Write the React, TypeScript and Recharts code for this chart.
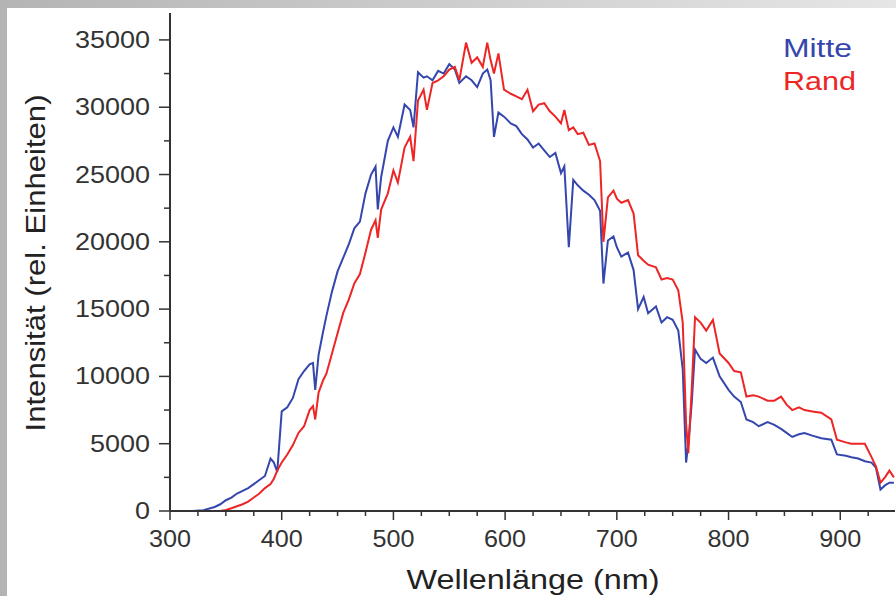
import React from 'react';
import { LineChart, Line, XAxis, YAxis, Legend, Label } from 'recharts';

// wavelength grid (nm) and the two spectra
const wavelengths = [
  300, 310, 320, 330, 340, 345, 350, 355, 360, 365, 370, 375, 380, 385, 390, 393, 396, 400,
  405, 410, 415, 420, 425, 428, 430, 433, 437, 440, 445, 450, 455, 460, 465, 470, 475, 480,
  484, 486, 489, 495, 500, 504, 510, 515, 518, 522, 527, 530, 535, 540, 545, 550, 555, 559,
  565, 570, 575, 580, 584, 587, 590, 594, 599, 605, 610, 615, 620, 625, 630, 635, 640, 645,
  650, 653, 657, 661, 665, 670, 675, 680, 685, 688, 692, 697, 700, 704, 710, 715, 719, 724,
  728, 735, 740, 745, 750, 755, 759, 762, 764, 767, 770, 775, 780, 786, 792, 800, 805, 811,
  816, 822, 827, 835, 841, 847, 852, 857, 863, 868, 875, 883, 892, 897, 905, 910, 916, 922,
  928, 932, 936, 940, 944, 948,
];

const mitte = [
  0, 0, 0, 50, 300, 500, 800, 1000, 1300, 1500, 1700, 2000, 2300, 2600, 3900, 3600, 2900, 7400,
  7700, 8400, 9800, 10400, 10900, 11000, 9000, 11600, 13300, 14500, 16300, 17800, 18800, 19800, 21000, 21500, 23600, 25000,
  25600, 22400, 24800, 27500, 28500, 27800, 30200, 29800, 28500, 32600, 32200, 32300, 32000, 32700, 32500, 33200, 32800, 31800,
  32300, 32000, 31500, 32500, 32800, 32000, 27800, 29600, 29300, 28800, 28600, 28000, 27600, 27000, 27300, 26800, 26300, 26600,
  25100, 25600, 19600, 24600, 24200, 23800, 23500, 23100, 22300, 16900, 20100, 20400, 19600, 18900, 19200, 17900, 15000, 15900,
  14700, 15200, 14000, 14400, 14200, 13400, 10500, 3600, 5000, 8000, 12000, 11300, 11000, 11400, 10000, 9000, 8500, 8100,
  6800, 6600, 6300, 6600, 6400, 6100, 5800, 5500, 5700, 5800, 5600, 5400, 5300, 4200, 4100, 4000, 3900, 3700,
  3600, 3200, 1600, 1900, 2100, 2100,
];

const rand = [
  0, 0, 0, 0, 0, 0, 80, 200, 350, 500, 700, 1000, 1300, 1700, 2000, 2400, 3000, 3600,
  4200, 4900, 5800, 6300, 7500, 7800, 6800, 8800, 9700, 10200, 11700, 13200, 14700, 15700, 16900, 17600, 19200, 20900,
  21600, 20300, 22400, 23600, 25300, 24400, 27000, 27800, 26000, 30500, 31300, 29800, 31800, 32000, 32300, 32800, 33000, 32000,
  34800, 33300, 33700, 33000, 34800, 33500, 32500, 34000, 31300, 31000, 30800, 30600, 31300, 29700, 30200, 30300, 29700, 29300,
  28800, 29800, 28300, 28500, 28000, 28100, 27200, 27300, 26000, 20000, 23300, 23800, 23200, 22900, 23100, 22100, 19000, 18600,
  18300, 18100, 17200, 17300, 17200, 16400, 14000, 6500, 4300, 9000, 14400, 14000, 13400, 14200, 11700, 11000, 10400, 10300,
  8500, 8600, 8500, 8200, 8200, 8500, 7900, 7500, 7700, 7500, 7400, 7300, 6800, 5300, 5100, 5000, 5000, 5000,
  4000, 3300, 2100, 2500, 3000, 2500,
];

const xTicks = [
  300, 325, 350, 375, 400, 425, 450, 475, 500, 525, 550, 575, 600, 625, 650, 675, 700, 725,
  750, 775, 800, 825, 850, 875, 900, 925,
];
const yTicks = [
  0, 2500, 5000, 7500, 10000, 12500, 15000, 17500, 20000, 22500, 25000, 27500, 30000, 32500, 35000,
];

const data = wavelengths.map((nm, i) => ({ nm, mitte: mitte[i], rand: rand[i] }));

const FONT = '"Liberation Sans", Arial, sans-serif';
const BLUE = '#3546ad';
const RED = '#ee2525';

const XTick = (props: any) => {
  const { x, y, payload } = props;
  const major = payload.value % 100 === 0;
  const label = String(payload.value);
  return (
    <g>
      <line x1={x} y1={y} x2={x} y2={y + (major ? 9 : 5)} stroke="#333" strokeWidth={1.5} />
      {major && (
        <text x={x} y={y + 36} textAnchor="middle" fill="#333" fontSize={24} fontFamily={FONT}
          textLength={label.length * 14} lengthAdjust="spacingAndGlyphs">
          {label}
        </text>
      )}
    </g>
  );
};

const YTick = (props: any) => {
  const { x, y, payload } = props;
  const major = payload.value % 5000 === 0;
  const label = String(payload.value);
  return (
    <g>
      <line x1={x} y1={y} x2={x - (major ? 11 : 6)} y2={y} stroke="#333" strokeWidth={1.5} />
      {major && (
        <text x={x - 20} y={y + 8} textAnchor="end" fill="#333" fontSize={23} fontFamily={FONT}
          textLength={label.length * 15} lengthAdjust="spacingAndGlyphs">
          {label}
        </text>
      )}
    </g>
  );
};

const LegendBox = (props: any) => {
  const { payload } = props;
  return (
    <svg width={90} height={70}>
      {(payload || []).map((entry: any, i: number) => (
        <text key={entry.value} x={2} y={27 + i * 33} fill={entry.color} fontSize={26} fontFamily={FONT}
          textLength={entry.value === 'Mitte' ? 69 : 73} lengthAdjust="spacingAndGlyphs">
          {entry.value}
        </text>
      ))}
    </svg>
  );
};

export default function App() {
  return (
    <div style={{ position: 'absolute', left: 0, top: 0, width: 896, height: 596, overflow: 'hidden',
      background: 'linear-gradient(to right, #b4b4b4, #e6e6e6)' }}>
      <div style={{ position: 'absolute', left: 7, top: 8, right: 0, bottom: 0, background: '#fff' }} />
      <div style={{ position: 'absolute', left: 0, top: 0 }}>
        <LineChart width={896} height={596} data={data} margin={{ top: 13, right: 1, bottom: 0, left: 0 }}>
          <XAxis dataKey="nm" type="number" domain={[300, 949]} ticks={xTicks} interval={0}
            tickSize={0} tickMargin={0} tick={<XTick />} tickLine={false}
            axisLine={{ stroke: '#333', strokeWidth: 2 }} height={85}>
            <Label content={() => (
              <text x={533} y={589} textAnchor="middle" fill="#222" fontSize={27} fontFamily={FONT}
                textLength={253} lengthAdjust="spacingAndGlyphs">
                Wellenlänge (nm)
              </text>
            )} />
          </XAxis>
          <XAxis xAxisId="top" dataKey="nm" type="number" domain={[300, 949]} orientation="top" height={0}
            tick={false} tickLine={false} axisLine={{ stroke: '#555', strokeWidth: 3 }} />
          <YAxis type="number" domain={[0, 37000]} ticks={yTicks} interval={0} width={170}
            tickSize={0} tickMargin={0} tick={<YTick />} tickLine={false}
            axisLine={{ stroke: '#333', strokeWidth: 2 }}>
            <Label content={() => (
              <text x={45} y={263} transform="rotate(-90 45 263)" textAnchor="middle" fill="#222"
                fontSize={27} fontFamily={FONT} textLength={337} lengthAdjust="spacingAndGlyphs">
                Intensität (rel. Einheiten)
              </text>
            )} />
          </YAxis>
          <YAxis yAxisId="right" orientation="right" width={0} domain={[0, 37000]} tick={false}
            tickLine={false} axisLine={{ stroke: '#999', strokeWidth: 1 }} />
          <Legend layout="vertical" align="center" verticalAlign="middle" content={<LegendBox />}
            wrapperStyle={{ left: 781, top: 30, width: 90, height: 70 }} />
          <Line type="linear" dataKey="mitte" name="Mitte" stroke={BLUE} strokeWidth={2} dot={false}
            isAnimationActive={false} />
          <Line type="linear" dataKey="rand" name="Rand" stroke={RED} strokeWidth={2} dot={false}
            isAnimationActive={false} />
        </LineChart>
      </div>
    </div>
  );
}
